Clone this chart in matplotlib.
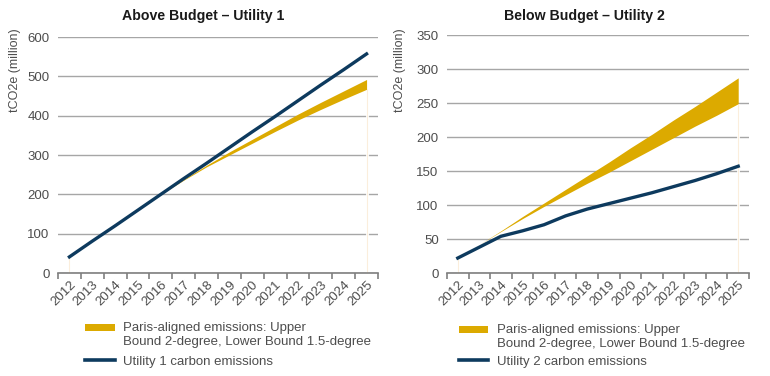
import matplotlib
matplotlib.use("Agg")
import matplotlib.pyplot as plt
from matplotlib.patches import Rectangle
from matplotlib.lines import Line2D

plt.rcParams['font.family'] = ['Liberation Sans', 'DejaVu Sans']

years = [str(y) for y in range(2012, 2026)]

u1_line = [41, 81, 120, 160, 200, 240, 279, 319, 359, 398, 438, 478, 517, 557]
u1_upper = [41, 81, 120, 160, 200, 238, 274, 308, 340, 372, 404, 434, 463, 492]
u1_lower = [41, 81, 120, 160, 200, 236, 270, 300, 330, 360, 389, 416, 442, 467]

u2_line = [22, 38, 54, 62, 71, 84, 94, 102, 110, 118, 127, 136, 146, 157]
u2_upper = [22, 42, 62, 83, 103, 123, 143, 163, 184, 204, 225, 245, 266, 287]
u2_lower = [22, 42, 61, 80, 98, 115, 132, 148, 165, 182, 199, 216, 232, 249]

titles = ["Above Budget \u2013 Utility 1", "Below Budget \u2013 Utility 2"]
ylabel = "tCO2e (million)"
band_label = ["Paris-aligned emissions: Upper", "Bound 2-degree, Lower Bound 1.5-degree"]
line_labels = ["Utility 1 carbon emissions", "Utility 2 carbon emissions"]

GOLD = "#dcaa00"
NAVY = "#0d3a5e"
GRID = "#a6a6a6"
TXT = "#4d4d4d"

W, H = 770, 376
fig = plt.figure(figsize=(W / 100, H / 100), dpi=100)


def px(l, t, r, b):
    return [l / W, 1 - b / H, (r - l) / W, (b - t) / H]


def fx(v):
    return v / W


def fy(v):
    return 1 - v / H


panels = [
    dict(rect=px(58, 37, 378, 273), line=u1_line, up=u1_upper, lo=u1_lower,
         ymax=600, step=100, title_x=203, ylab_x=15,
         hx0=85, hx1=115, tx=123, ly=(327, 341, 360)),
    dict(rect=px(447, 35, 749, 273), line=u2_line, up=u2_upper, lo=u2_lower,
         ymax=350, step=50, title_x=584, ylab_x=400,
         hx0=459, hx1=488, tx=497, ly=(329, 343, 360)),
]

for i, p in enumerate(panels):
    ax = fig.add_axes(p['rect'])
    x = list(range(len(years)))
    ax.set_xlim(-0.5, len(years) - 0.5)
    ax.set_ylim(0, p['ymax'])
    ax.set_yticks(range(0, p['ymax'] + 1, p['step']))
    ax.yaxis.grid(True, color=GRID, lw=1.0)
    ax.set_axisbelow(True)
    for s in ['top', 'right', 'left']:
        ax.spines[s].set_visible(False)
    ax.spines['bottom'].set_color("#7f7f7f")
    ax.spines['bottom'].set_linewidth(1.2)
    ax.tick_params(axis='y', length=0, labelsize=9.5, labelcolor=TXT, pad=6)
    ax.set_xticks(x)
    ax.set_xticklabels(years, rotation=45, ha='right', rotation_mode='anchor',
                       fontsize=9.5, color=TXT)
    ax.tick_params(axis='x', length=0, pad=4)
    ax.set_xticks([v - 0.5 for v in range(len(years) + 1)], minor=True)
    ax.tick_params(axis='x', which='minor', length=4, width=1.2, color="#7f7f7f",
                   direction='out')

    # faint area edges
    ax.vlines([x[0]], 0, p['lo'][0], color="white", lw=2.0, zorder=2)
    ax.vlines([x[-1]], 0, p['lo'][-1], color="white", lw=2.0, zorder=2)
    ax.vlines([x[0]], 0, p['lo'][0], color="#fbeedc", lw=0.8, zorder=2)
    ax.vlines([x[-1]], 0, p['lo'][-1], color="#fbeedc", lw=0.8, zorder=2)

    ax.fill_between(x, p['lo'], p['up'], color=GOLD, lw=0, zorder=3)
    ax.plot(x, p['line'], color=NAVY, lw=2.4, zorder=4)

    fig.text(fx(p['title_x']), fy(16), titles[i], ha='center', va='center',
             fontsize=10.2, fontweight='bold', color="#1a1a1a")
    fig.text(fx(p['ylab_x']), fy(28), ylabel, rotation=90, ha='center', va='top',
             fontsize=9, color=TXT)

    # legend (manual so the swatch sits on the first line of the two-line label)
    y1, y2, y3 = p['ly']
    fig.patches.append(Rectangle((fx(p['hx0']), fy(y1 + 3.5)), fx(p['hx1'] - p['hx0']),
                                 7 / H, transform=fig.transFigure, facecolor=GOLD,
                                 edgecolor='none'))
    fig.lines.append(Line2D([fx(p['hx0']), fx(p['hx1'])], [fy(y3), fy(y3)],
                            transform=fig.transFigure, color=NAVY, lw=2.6))
    fig.text(fx(p['tx']), fy(y1), band_label[0], ha='left', va='center_baseline',
             fontsize=9.5, color=TXT)
    fig.text(fx(p['tx']), fy(y2), band_label[1], ha='left', va='center_baseline',
             fontsize=9.5, color=TXT)
    fig.text(fx(p['tx']), fy(y3), line_labels[i], ha='left', va='center_baseline',
             fontsize=9.5, color=TXT)

fig.savefig("out.png", dpi=100)
